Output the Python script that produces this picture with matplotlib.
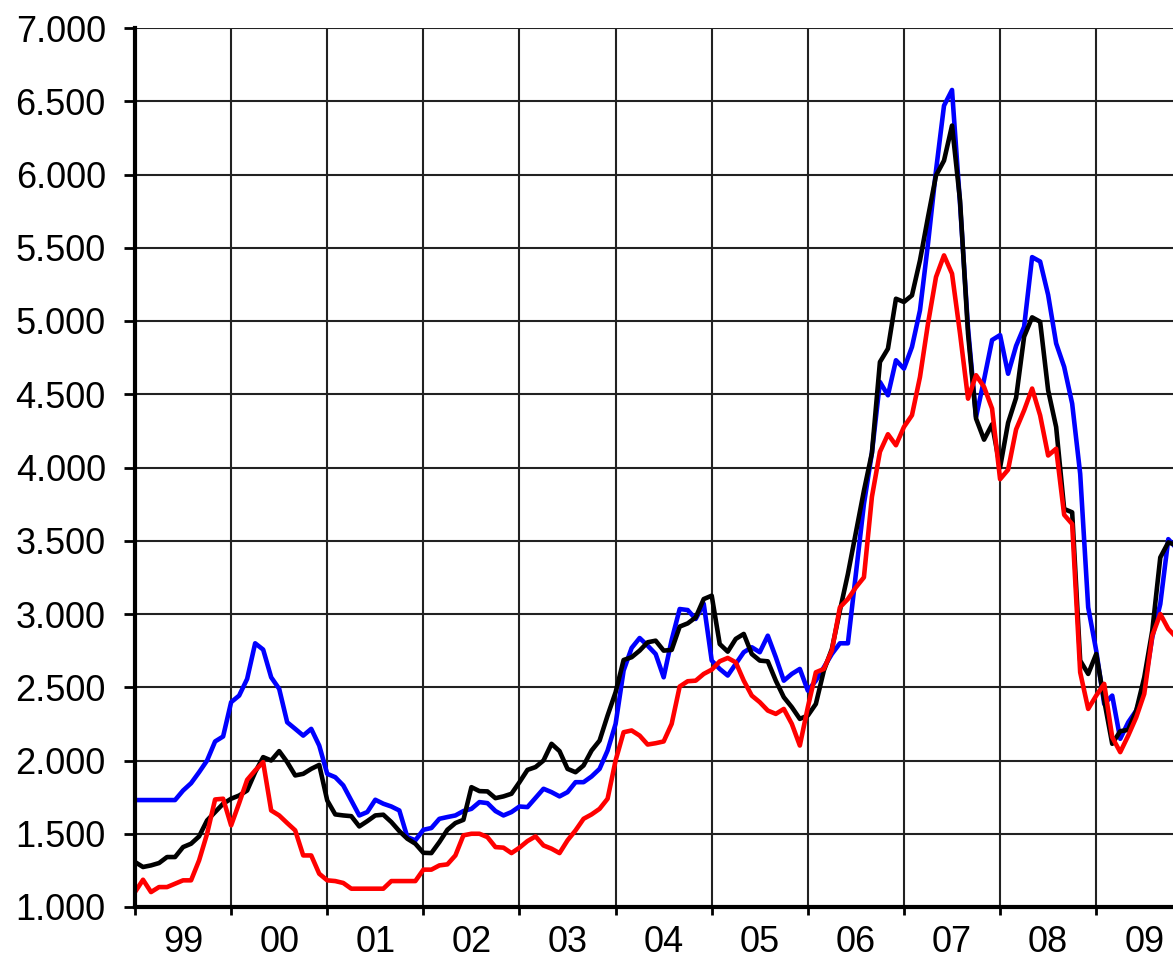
import matplotlib
matplotlib.use("Agg")
import matplotlib.pyplot as plt
import numpy as np

# Monthly series, Jan 1999 onwards
blue = [1730, 1730, 1730, 1730, 1730, 1730, 1795, 1845, 1920, 2000, 2130, 2164,
        2398, 2443, 2557, 2800, 2757, 2568, 2489, 2261, 2216, 2170, 2216, 2102,
        1909, 1886, 1830, 1727, 1625, 1648, 1732, 1705, 1686, 1659, 1477, 1455,
        1527, 1539, 1602, 1614, 1625, 1655, 1670, 1716, 1709, 1655, 1625, 1648,
        1686, 1682, 1745, 1807, 1784, 1755, 1784, 1852, 1852, 1891, 1943, 2068,
        2250, 2614, 2768, 2836, 2784, 2727, 2568, 2823, 3034, 3027, 2966, 3070,
        2682, 2625, 2580, 2659, 2739, 2773, 2739, 2852, 2705, 2545, 2591, 2625,
        2477, 2545, 2636, 2727, 2800, 2800, 3273, 3750, 4100, 4584, 4493, 4732,
        4675, 4823, 5073, 5527, 6027, 6470, 6577, 5800, 4950, 4345, 4600, 4870,
        4904, 4640, 4830, 4961, 5436, 5406, 5178, 4847, 4687, 4436, 3957, 3045,
        2750, 2386, 2443, 2148, 2261, 2341, 2500, 2841, 3068, 3511, 3450]

black = [1307, 1273, 1284, 1300, 1341, 1341, 1409, 1432, 1482, 1591, 1648, 1705,
         1739, 1761, 1795, 1920, 2023, 2000, 2064, 1989, 1898, 1909, 1943, 1970,
         1727, 1632, 1625, 1620, 1550, 1586, 1625, 1630, 1580, 1518, 1466, 1432,
         1370, 1368, 1443, 1527, 1573, 1595, 1818, 1791, 1789, 1743, 1755, 1773,
         1852, 1936, 1955, 2000, 2114, 2064, 1943, 1920, 1966, 2068, 2136, 2307,
         2466, 2686, 2705, 2750, 2807, 2818, 2750, 2755, 2914, 2936, 2977, 3102,
         3125, 2795, 2743, 2830, 2864, 2727, 2682, 2677, 2545, 2432, 2364, 2284,
         2307, 2386, 2614, 2761, 3023, 3273, 3557, 3841, 4100, 4720, 4811, 5152,
         5130, 5175, 5414, 5709, 5993, 6095, 6334, 5823, 4914, 4334, 4190, 4295,
         4000, 4305, 4476, 4893, 5025, 4995, 4527, 4276, 3717, 3694, 2682, 2591,
         2727, 2409, 2114, 2200, 2209, 2341, 2568, 2886, 3386, 3489, 3470]

red = [1102, 1186, 1102, 1136, 1136, 1159, 1182, 1182, 1318, 1500, 1734, 1739,
       1557, 1709, 1868, 1932, 1989, 1659, 1625, 1573, 1523, 1352, 1352, 1227,
       1182, 1177, 1164, 1125, 1125, 1125, 1125, 1125, 1177, 1177, 1177, 1177,
       1255, 1255, 1284, 1291, 1352, 1489, 1500, 1500, 1477, 1409, 1405, 1368,
       1405, 1450, 1482, 1420, 1398, 1368, 1455, 1523, 1602, 1632, 1670, 1739,
       2000, 2193, 2205, 2170, 2109, 2118, 2130, 2250, 2505, 2541, 2545, 2591,
       2620, 2677, 2700, 2670, 2545, 2443, 2398, 2341, 2318, 2352, 2250, 2102,
       2364, 2602, 2625, 2750, 3045, 3102, 3182, 3250, 3800, 4107, 4227, 4152,
       4277, 4357, 4618, 4982, 5300, 5448, 5323, 4914, 4470, 4630, 4550, 4402,
       3920, 3985, 4260, 4390, 4539, 4356, 4082, 4128, 3677, 3614, 2602, 2352,
       2443, 2523, 2159, 2057, 2170, 2295, 2455, 2852, 3000, 2898, 2840]

year_labels = ["99", "00", "01", "02", "03", "04", "05", "06", "07", "08", "09"]
y_ticks = [1000, 1500, 2000, 2500, 3000, 3500, 4000, 4500, 5000, 5500, 6000, 6500, 7000]
y_tick_labels = ["1.000", "1.500", "2.000", "2.500", "3.000", "3.500", "4.000",
                 "4.500", "5.000", "5.500", "6.000", "6.500", "7.000"]

plt.rcParams['font.family'] = ['Liberation Sans', 'DejaVu Sans']

W, H = 1173, 958
fig = plt.figure(figsize=(W / 100, H / 100), dpi=100)
left, right, bottom, top = 135, 1173, 907, 28
ax = fig.add_axes([left / W, (H - bottom) / H, (right - left) / W, (bottom - top) / H])

px_per_month = 8.01
xmax = (right - left) / px_per_month

months = np.arange(len(blue))
ax.plot(months, blue, color="#0000FF", lw=3.3, zorder=3)
ax.plot(months, black, color="#000000", lw=3.3, zorder=4)
ax.plot(months, red, color="#FF0000", lw=3.3, zorder=5)

ax.set_xlim(0, xmax)
ax.set_ylim(1000, 7000)

# grid
for k in range(1, len(year_labels)):
    ax.axvline(12 * k, color="#222222", lw=1.5, zorder=1)
for yv in y_ticks[1:]:
    ax.axhline(yv, color="#222222", lw=1.5, zorder=1)

ax.set_yticks(y_ticks)
ax.set_yticklabels(y_tick_labels)
ax.set_xticks([12 * k for k in range(len(year_labels))])
ax.set_xticklabels([])
ax.set_xticks([12 * k + 6 for k in range(len(year_labels))], minor=True)
ax.set_xticklabels(year_labels, minor=True)

ax.tick_params(axis="y", which="major", direction="out", length=8, width=2,
               labelsize=26, pad=13)
ax.tick_params(axis="x", which="major", direction="out", length=6, width=2)
ax.tick_params(axis="x", which="minor", length=0, labelsize=26, pad=13)

for s in ["top", "right"]:
    ax.spines[s].set_visible(False)
ax.spines["left"].set_linewidth(3)
ax.spines["bottom"].set_linewidth(3)
ax.spines["left"].set_zorder(6)
ax.spines["bottom"].set_zorder(6)

fig.savefig("out.png", dpi=100)
